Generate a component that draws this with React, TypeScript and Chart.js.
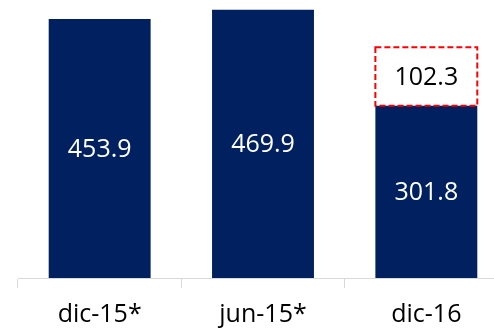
import React, { useEffect, useRef } from "react";
import { Chart, registerables } from "chart.js";

Chart.register(...registerables);

const categories = ["dic-15*", "jun-15*", "dic-16"];
const baseValues = [453.9, 469.9, 301.8];
const extraValues: (number | null)[] = [null, null, 102.3];
const yMax = 480;

const NAVY = "#002060";
const RED = "#FF0000";
const FONT = "'Open Sans', 'Liberation Sans', sans-serif";

const labelPlugin = {
  id: "barLabels",
  afterDatasetsDraw(chart: any) {
    const ctx = chart.ctx;
    ctx.save();
    chart.data.datasets.forEach((ds: any, di: number) => {
      const meta = chart.getDatasetMeta(di);
      meta.data.forEach((el: any, i: number) => {
        const v = ds.data[i];
        if (v == null) return;
        const { x, y, base, width } = el.getProps(["x", "y", "base", "width"], true);
        if (di === 1) {
          ctx.save();
          ctx.setLineDash([6, 3]);
          ctx.lineWidth = 2;
          ctx.strokeStyle = RED;
          ctx.strokeRect(x - width / 2, y, width, base - y);
          ctx.restore();
        }
        ctx.fillStyle = di === 1 ? "#000000" : "#FFFFFF";
        ctx.font = `25px ${FONT}`;
        ctx.textAlign = "center";
        ctx.textBaseline = "middle";
        ctx.fillText(v.toFixed(1), x, (y + base) / 2 + 1);
      });
    });
    ctx.restore();
  },
};

export default function App() {
  const ref = useRef<HTMLCanvasElement | null>(null);
  useEffect(() => {
    if (!ref.current) return;
    const chart = new Chart(ref.current, {
      type: "bar",
      data: {
        labels: categories,
        datasets: [
          {
            data: baseValues,
            backgroundColor: NAVY,
            borderWidth: 0,
            barPercentage: 0.624,
            categoryPercentage: 1,
          },
          {
            data: extraValues,
            backgroundColor: "#FFFFFF",
            borderWidth: 0,
            barPercentage: 0.624,
            categoryPercentage: 1,
          },
        ],
      },
      options: {
        responsive: false,
        animation: false,
        layout: { padding: { left: 18, right: 0, top: 4, bottom: 0 } },
        plugins: { legend: { display: false }, tooltip: { enabled: false } },
        scales: {
          x: {
            stacked: true,
            grid: {
              display: true,
              offset: true,
              drawOnChartArea: false,
              drawTicks: true,
              tickLength: 10,
              color: "#D9D9D9",
            },
            border: { display: true, color: "#D9D9D9", width: 1 },
            ticks: {
              color: "#000000",
              font: { family: FONT, size: 25 },
              padding: 12,
              maxRotation: 0,
            },
            afterFit: (scale: any) => {
              scale.height = 50;
            },
          },
          y: {
            stacked: true,
            display: false,
            min: 0,
            max: yMax,
          },
        },
      },
      plugins: [labelPlugin],
    });
    return () => chart.destroy();
  }, []);
  return (
    <div
      style={{
        position: "absolute",
        left: 0,
        top: 0,
        width: 494,
        height: 328,
        overflow: "hidden",
        background: "#FFFFFF",
      }}
    >
      <canvas ref={ref} width={508} height={328} style={{ display: "block" }} />
    </div>
  );
}
